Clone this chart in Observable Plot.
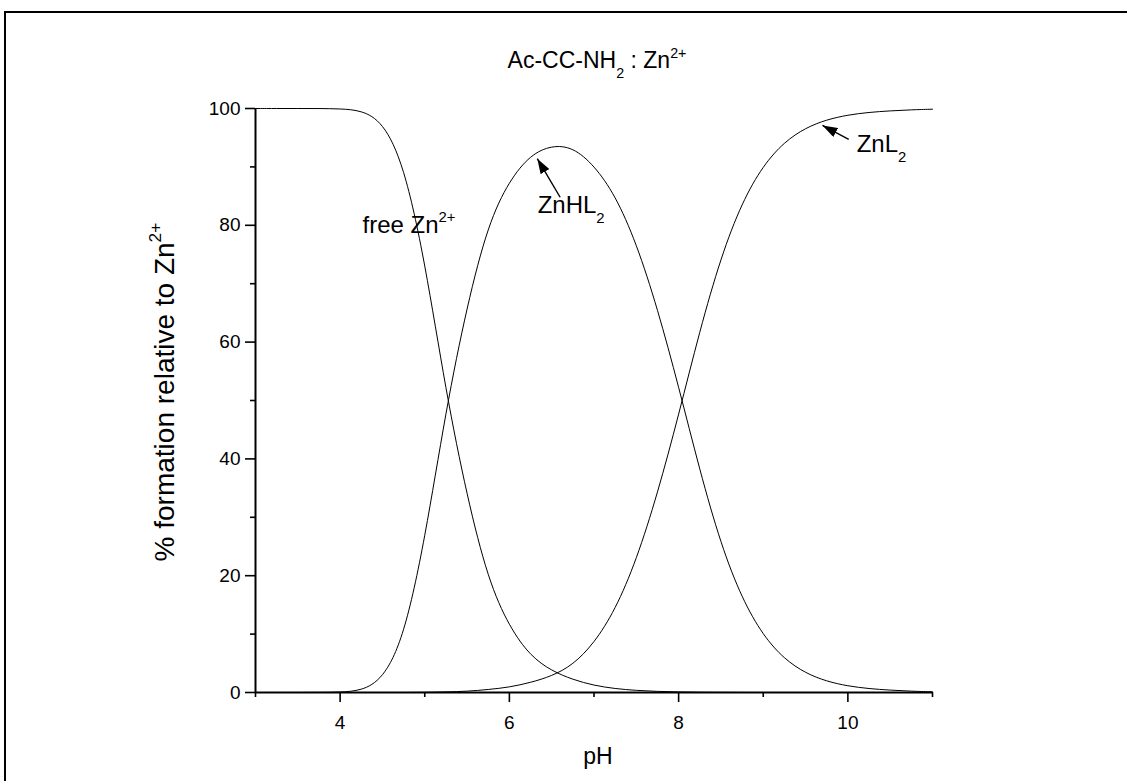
<!DOCTYPE html>
<html><head><meta charset="utf-8">
<script src="https://cdn.jsdelivr.net/npm/d3@7"></script>
<script src="https://cdn.jsdelivr.net/npm/@observablehq/plot@0.6"></script>
<style>
body{margin:0;background:#fff;}
#chart{position:relative;width:1127px;height:781px;overflow:hidden;background:#fff;}
</style></head><body><div id="chart"></div>
<script>
// ---- data ----
const pH = [3,3.25,3.5,3.75,4,4.25,4.5,4.75,5,5.25,5.5,5.75,6,6.25,6.5,6.75,7,7.25,7.5,7.75,8,8.25,8.5,8.75,9,9.25,9.5,9.75,10,10.25,10.5,10.75,11];
const freeZn = [100,100,100,100,99.95,99.7,97.8,90.6,74,51.5,33.5,19.2,11.2,6.2,3.7,2.2,1.2,0.65,0.35,0.18,0.09,0.04,0.02,0.01,0,0,0,0,0,0,0,0,0];
const ZnHL2 = [0,0,0,0.02,0.05,0.3,2.2,9.2,26,48.4,66.3,80.3,87.7,92.1,93.7,93.4,90.3,85.2,77,65.8,52.4,38,25.3,16,9.7,5.7,3.3,1.9,1.1,0.65,0.4,0.22,0.12];
const ZnL2 = [0,0,0,0,0,0,0,0,0.02,0.1,0.2,0.5,0.9,1.7,2.8,4.7,8.4,14.1,22.6,34,47.5,62,74.6,84,90.3,94.3,96.7,98.1,98.9,99.35,99.6,99.78,99.88];
const seriesNames = ["free Zn2+","ZnHL2","ZnL2"];
const xMajorTicks = [4,6,8,10];
const xMinorTicks = [3,5,7,9,11];
const yMajorTicks = [0,20,40,60,80,100];
const yMinorTicks = [10,30,50,70,90];
const titleParts = [["Ac-CC-NH",""],["2","sub"],[" : Zn",""],["2+","sup"]];
const yLabelParts = [["% formation relative to Zn",""],["2+","sup"]];
const xLabelParts = [["pH",""]];
const annotLabels = [
  {parts:[["free Zn",""],["2+","sup"]], x:4.27, y:78.6},
  {parts:[["ZnHL",""],["2","sub"]], x:6.34, y:82.0},
  {parts:[["ZnL",""],["2","sub"]], x:10.11, y:92.5}
];
const annotArrows = [
  {x1:6.60, y1:84.8, x2:6.33, y2:91.4},
  {x1:10.01, y1:94.7, x2:9.70, y2:97.1}
];

const rows = pH.flatMap((p,i)=>[
  {pH:p, v:freeZn[i], s:seriesNames[0]},
  {pH:p, v:ZnHL2[i], s:seriesNames[1]},
  {pH:p, v:ZnL2[i], s:seriesNames[2]}
]);

const FONT = "'Liberation Sans', Arial, Helvetica, sans-serif";

const chart = Plot.plot({
  width:1127, height:781,
  marginLeft:255, marginRight:195, marginTop:108, marginBottom:89,
  style:{fontFamily:FONT, background:"white", color:"black"},
  x:{domain:[3,11]},
  y:{domain:[0,100]},
  marks:[
    Plot.line(rows,{x:"pH", y:"v", z:"s", stroke:"black", strokeWidth:1, curve:"basis"}),
    Plot.axisX(xMajorTicks,{tickSize:10, tickPadding:13, fontSize:19, label:null, strokeWidth:1.6}),
    Plot.axisX(xMinorTicks,{tickSize:5, tickFormat:()=>"", label:null, strokeWidth:1.6}),
    Plot.axisY(yMajorTicks,{tickSize:10, tickPadding:5, fontSize:19, label:null, strokeWidth:1.6}),
    Plot.axisY(yMinorTicks,{tickSize:5, tickFormat:()=>"", label:null, strokeWidth:1.6}),
    Plot.ruleY([0],{strokeWidth:2}),
    Plot.ruleX([3],{strokeWidth:2}),
    Plot.link(annotArrows,{x1:"x1",y1:"y1",x2:"x2",y2:"y2",stroke:"black",strokeWidth:1.4,className:"annot-arrow"})
  ]
});
document.getElementById("chart").appendChild(chart);

const svg = d3.select(chart);
const sx = chart.scale("x"), sy = chart.scale("y");

// filled arrow heads
const defs = svg.append("defs");
defs.append("marker").attr("id","ahead").attr("viewBox","0 0 10 10").attr("refX",10).attr("refY",5)
  .attr("markerUnits","userSpaceOnUse").attr("markerWidth",15).attr("markerHeight",10)
  .attr("preserveAspectRatio","none").attr("orient","auto")
  .append("path").attr("d","M0,0L10,5L0,10z").attr("fill","black");
svg.selectAll("g.annot-arrow path").attr("marker-end","url(#ahead)");

// frame border
svg.append("path").attr("d","M5,781V12H1130").attr("fill","none").attr("stroke","black").attr("stroke-width",2);

function richText(parent, parts, x, y, size, anchor, transform){
  const t = parent.append("text").attr("x",x).attr("y",y).attr("font-size",size)
    .attr("font-family",FONT).attr("fill","black").attr("text-anchor",anchor||"start");
  if (transform) t.attr("transform",transform);
  let shift = 0;
  for (const [str,kind] of parts){
    const ts = t.append("tspan").text(str);
    let target = 0, fs = size;
    if (kind==="sub"){ target = size*0.42; fs = size*0.62; }
    if (kind==="sup"){ target = -size*0.45; fs = size*0.62; }
    ts.attr("dy", target - shift).attr("font-size", fs);
    shift = target;
  }
  return t;
}
const g = svg.append("g");
richText(g, titleParts, 597, 68, 23, "middle");
richText(g, xLabelParts, 598, 764, 23, "middle");
richText(g, yLabelParts, 0, 0, 28, "middle", "translate(174,392) rotate(-90)");
for (const a of annotLabels){
  richText(g, a.parts, sx.apply(a.x), sy.apply(a.y), 24, "start");
}
</script></body></html>
